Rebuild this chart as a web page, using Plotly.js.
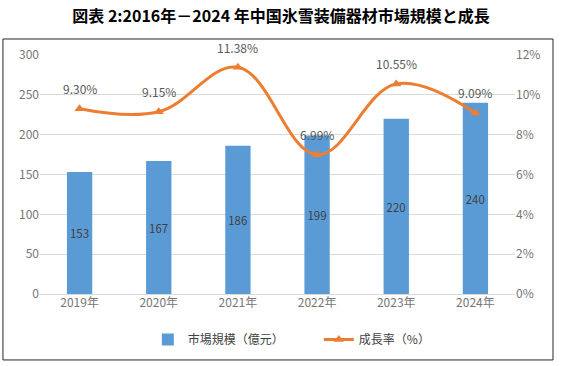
<!DOCTYPE html>
<html>
<head>
<meta charset="utf-8">
<script src="https://cdn.plot.ly/plotly-3.0.1.min.js"></script>
<style>
  html, body { margin: 0; padding: 0; background: #fff; }
  #chart { width: 562px; height: 366px; }
</style>
</head>
<body>
<div id="chart"></div>
<script>
// data
const years = ['2019年', '2020年', '2021年', '2022年', '2023年', '2024年'];
const marketSize = [153, 167, 186, 199, 220, 240];      // 億元
const growthRate = [9.30, 9.15, 11.38, 6.99, 10.55, 9.09]; // %

const BLUE = '#5B9BD5';
const ORANGE = '#ED7D31';
const TICK = '#767676';
const FONT = '"Noto Sans CJK JP", "Noto Sans", sans-serif';

const traces = [
    {
        type: 'bar',
        name: '市場規模（億元）',
        x: years,
        y: marketSize,
        marker: { color: BLUE },
        text: marketSize.map(String),
        textposition: 'inside',
        insidetextanchor: 'middle',
        textangle: 0,
        textfont: { color: '#404040', size: 12, family: FONT },
        hoverinfo: 'x+y'
    },
    {
        type: 'scatter',
        name: '成長率（%）',
        x: years,
        y: growthRate,
        yaxis: 'y2',
        mode: 'lines+markers',
        line: { color: ORANGE, width: 3, shape: 'spline', smoothing: 1.1 },
        marker: { color: ORANGE, symbol: 'triangle-up', size: 9 }
    }
];

// percent labels above the line points
const labels = growthRate.map((v, i) => ({
    x: years[i], y: v, xref: 'x', yref: 'y2',
    text: v.toFixed(2) + '%',
    showarrow: false, yshift: 20,
    font: { color: '#595959', size: 12, family: FONT }
}));

const layout = {
    width: 562,
    height: 366,
    margin: { l: 40, r: 47, t: 55, b: 72 },
    paper_bgcolor: '#fff',
    plot_bgcolor: '#fff',
    font: { family: FONT, color: TICK, size: 12 },
    title: {
        text: '<b>図表 2:2016年－2024 年中国氷雪装備器材市場規模と成長</b>',
        font: { family: FONT, size: 16, color: '#000' },
        x: 0.5, xanchor: 'center', y: 0.955, yanchor: 'middle'
    },
    bargap: 0.68,
    showlegend: true,
    legend: {
        orientation: 'h', x: 0.227, xanchor: 'left', y: -0.19, yanchor: 'middle',
        entrywidth: 126, entrywidthmode: 'pixels',
        font: { family: FONT, size: 12, color: '#404040' }
    },
    xaxis: {
        type: 'category',
        showline: false, showgrid: false, zeroline: false,
        ticks: '',
        tickfont: { size: 12, color: TICK }
    },
    yaxis: {
        range: [0, 300], dtick: 50,
        gridcolor: '#D9D9D9', zeroline: true, zerolinecolor: '#D9D9D9',
        showline: false, ticks: '',
        tickfont: { size: 12, color: TICK }
    },
    yaxis2: {
        overlaying: 'y', side: 'right',
        range: [0, 12], dtick: 2, ticksuffix: '%',
        showgrid: false, zeroline: false, showline: false, ticks: '',
        tickfont: { size: 12, color: TICK }
    },
    annotations: labels,
    shapes: [{
        type: 'rect', xref: 'paper', yref: 'paper',
        x0: -0.078, x1: 1.08, y0: -0.276, y1: 1.067,
        line: { color: '#262626', width: 1 }, fillcolor: 'rgba(0,0,0,0)', layer: 'below'
    }]
};

Plotly.newPlot('chart', traces, layout, { displayModeBar: false, staticPlot: true });
</script>
</body>
</html>
